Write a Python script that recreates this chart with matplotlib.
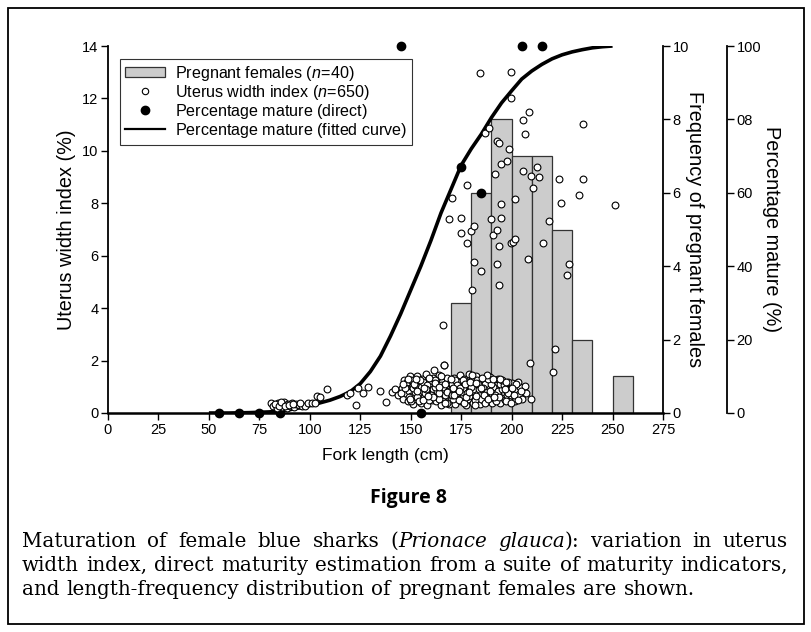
import matplotlib
matplotlib.use("Agg")
import matplotlib.pyplot as plt
from matplotlib.patches import Patch, Rectangle
from matplotlib.lines import Line2D

plt.rcParams['font.family'] = ['Liberation Sans', 'DejaVu Sans']
plt.rcParams['mathtext.fontset'] = 'custom'
plt.rcParams['mathtext.it'] = 'Liberation Sans:italic'
plt.rcParams['mathtext.rm'] = 'Liberation Sans'

# ---- data ----
# length-frequency of pregnant females (10 cm bins)
bin_left = [170, 180, 190, 200, 210, 220, 230, 240, 250]
preg_freq = [3, 6, 8, 7, 7, 5, 2, 0, 1]

# percentage mature, direct estimate
direct_len = [55, 65, 75, 85, 155, 145, 175, 185, 205, 215]
direct_pct = [0, 0, 0, 0, 0, 100, 67, 60, 100, 100]

# percentage mature, fitted curve
curve_len = [50, 60, 70, 80, 90, 100, 110, 115, 120, 125, 130, 135, 140, 145,
             150, 155, 160, 165, 170, 175, 180, 185, 190, 195, 200, 205, 210,
             215, 220, 225, 230, 235, 240, 245, 250]
curve_pct = [0, 0, 0.1, 0.3, 0.9, 2.0, 3.5, 4.5, 5.8, 8.0, 11.3, 15.5, 21, 27,
             33.5, 40, 47, 54.5, 61, 67.5, 72, 76, 80.5, 84.5, 87.8, 91, 93.2,
             95, 96.5, 97.6, 98.4, 99.0, 99.5, 99.8, 100]

# uterus width index - juveniles
juv_len = [81, 82, 83, 83.5, 84, 85, 86, 86.5, 87, 88, 88.5, 89, 90, 91, 92, 93,
           94.5, 96, 97.6, 99.3, 100.9, 102.6, 103.7, 105, 108.7, 118.3, 119.9,
           122.9, 124, 126.2, 129, 134.8, 137.8, 140.6, 142.2, 143.9,
           82.5, 84.5, 85.5, 87.5, 89.5, 91.5, 95]
juv_uwi = [0.38, 0.25, 0.32, 0.18, 0.4, 0.3, 0.22, 0.38, 0.43, 0.3, 0.2, 0.35,
           0.28, 0.4, 0.22, 0.34, 0.3, 0.25, 0.27, 0.39, 0.39, 0.39, 0.66, 0.62,
           0.9, 0.69, 0.75, 0.31, 0.94, 0.77, 0.98, 0.85, 0.41, 0.81, 0.9, 0.69,
           0.35, 0.28, 0.42, 0.25, 0.3, 0.33, 0.38]

# uterus width index - dense cluster of immature/maturing fish
clu_len = [145.5, 146, 146.5, 147, 147.5, 148, 148.5, 149, 149.5, 150, 150.5,
           151, 151.5, 152, 152.5, 153, 153.5, 154, 154.5, 155, 155.5, 156,
           156.5, 157, 157.5, 158, 158.5, 159, 159.5, 160, 160.5, 161, 161.5,
           162, 162.5, 163, 163.5, 164, 164.5, 165, 165.5, 166, 166.5, 167,
           167.5, 168, 168.5, 169, 169.5,
           149, 151, 153, 155, 157, 159, 161, 163, 165, 167, 169, 150, 152, 154,
           156, 158, 160, 162, 164, 166, 168,
           170, 170.5, 171, 171.5, 172, 172.5, 173, 173.5, 174, 174.5, 175,
           175.5, 176, 176.5, 177, 177.5, 178, 178.5, 179, 179.5, 180, 180.5,
           181, 181.5, 182, 182.5, 183, 183.5, 184, 184.5, 185, 185.5, 186,
           186.5, 187, 187.5, 188, 188.5, 189, 189.5, 190, 190.5, 191, 191.5,
           192, 192.5, 193, 193.5, 194, 194.5, 195, 195.5, 196, 196.5, 197,
           197.5, 198, 198.5, 199, 199.5, 200, 200.5,
           171, 173, 175, 177, 179, 181, 183, 185, 187, 189, 191, 193, 195, 197,
           172, 174, 176, 178, 180, 182, 184, 186, 188, 190, 192, 194, 196, 198,
           170.5, 176.5, 182.5, 188.5, 186.8,
           201, 202, 202.8, 203.8, 204, 205, 206.6, 207, 209.5, 201.5, 203]
clu_uwi = [0.95, 0.55, 1.25, 0.75, 1.05, 1.19, 0.45, 0.85, 1.4, 0.65, 1.0,
           0.35, 1.2, 0.8, 0.55, 1.42, 0.95, 0.7, 1.1, 0.4, 1.3, 0.85,
           0.6, 1.05, 1.5, 0.3, 0.9, 1.2, 0.7, 1.0, 0.5, 1.35, 1.64,
           0.8, 0.45, 1.1, 0.65, 1.45, 0.9, 0.3, 1.2, 0.75, 1.84, 0.5,
           1.0, 1.35, 0.6, 0.85, 1.15,
           0.6, 0.95, 0.6, 1.0, 0.75, 0.5, 0.9, 0.85, 1.05, 0.7, 0.35, 1.25, 1.05,
           0.45, 1.2, 1.05, 0.7, 1.25, 0.55, 1.0, 0.8,
           0.5, 1.1, 0.8, 1.35, 0.35, 0.95, 0.6, 1.2, 0.75, 1.45, 0.45,
           1.0, 0.65, 1.3, 0.85, 0.3, 1.1, 0.55, 1.5, 0.9, 0.7, 1.25,
           0.4, 1.05, 0.8, 1.4, 0.6, 0.95, 1.2, 0.35, 0.75, 1.1, 0.5,
           1.3, 0.9, 0.65, 1.15, 0.45, 1.0, 1.39, 0.7, 0.4, 1.2, 0.85,
           0.55, 1.05, 1.29, 0.75, 0.38, 0.95, 0.6, 1.15, 0.8, 0.5, 1.0,
           0.7, 1.05, 0.45, 0.9, 0.67, 1.13, 0.8,
           0.55, 1.0, 0.8, 1.15, 0.65, 0.9, 1.25, 0.55, 1.1, 0.6, 1.0, 0.85, 0.9,
           0.45, 1.25, 0.5, 0.95, 0.75, 1.0, 0.5, 0.9, 0.95, 0.8, 1.1, 0.7, 1.1,
           1.05, 0.75, 0.7, 0.4, 0.65, 1.3, 0.37,
           0.95, 0.6, 0.88, 0.72, 1.0, 0.55, 1.03, 0.75, 0.53, 0.45, 1.2]

clu2_len = [145, 147.2, 148.8, 150.2, 151.8, 153.2, 154.8, 156.2, 157.8, 159.2,
            160.8, 162.2, 163.8, 165.2, 166.8, 168.2, 169.8, 171.2, 172.8, 174.2,
            175.8, 177.2, 178.8, 180.2, 181.8, 183.2, 184.8, 186.2, 187.8, 189.2,
            190.8, 192.2, 193.8, 195.2, 196.8, 198.2, 199.8, 201.2, 202.2, 204.5,
            146.2, 149.8, 152.8, 156.8, 158.8, 161.8, 164.2, 167.2, 170.8, 173.8,
            176.8, 179.2, 182.2, 185.2, 188.2, 191.2, 194.2, 197.2, 200.2, 203.2]
clu2_uwi = [0.75, 0.95, 1.3, 0.45, 1.1, 0.85, 1.25, 0.5, 0.9, 1.35,
            0.6, 1.0, 0.75, 1.4, 1.1, 0.4, 1.3, 0.7, 1.05, 0.95,
            1.25, 0.6, 0.8, 1.45, 0.3, 1.1, 0.95, 0.7, 1.45, 0.85,
            1.3, 0.45, 0.6, 1.25, 0.9, 1.2, 0.4, 0.7, 1.1, 0.85,
            1.1, 0.55, 1.3, 0.95, 0.65, 1.15, 1.0, 0.4, 0.95, 0.85,
            1.1, 1.2, 1.15, 1.35, 0.55, 0.6, 1.3, 1.2, 0.95, 0.5]

# uterus width index - enlarged uteri
big_len = [165.9, 166.7, 168.8, 170.3, 174.8, 174.8, 177.7, 177.7, 179.7, 180.5,
           181.5, 181.5, 184.5, 184.7, 186.8, 188.6, 189.6, 190.6, 191.6, 192.6,
           192.6, 192.6, 193.6, 193.6, 193.6, 194.6, 194.6, 194.7, 197.6, 198.6,
           199.5, 199.5, 199.5, 200.5, 201.7, 201.8, 205.5, 205.5, 206.6, 208.3,
           208.5, 209.1, 209.5, 210.8, 212.4, 213.6, 215.6, 218.7, 220.5, 221.5,
           223.3, 224.5, 227.5, 228.4, 233.6, 235.5, 235.5, 251.2]
big_uwi = [3.36, 1.83, 7.39, 8.19, 7.43, 6.86, 8.71, 6.47, 6.94, 4.68,
           7.15, 5.77, 12.98, 5.42, 10.70, 10.86, 7.41, 6.80, 9.12, 10.39,
           6.98, 5.68, 10.31, 6.38, 4.87, 9.49, 7.45, 7.96, 9.61, 10.06,
           13.01, 12.0, 6.50, 6.54, 6.63, 8.16, 11.18, 9.25, 10.64, 5.88,
           11.5, 1.90, 9.05, 8.57, 9.40, 9.02, 6.47, 7.33, 1.55, 2.45,
           8.93, 8.0, 5.25, 5.67, 8.32, 11.03, 8.92, 7.94]

uwi_len = juv_len + clu_len + clu2_len + big_len
uwi_val = juv_uwi + clu_uwi + clu2_uwi + big_uwi

x_ticks = [0, 25, 50, 75, 100, 125, 150, 175, 200, 225, 250, 275]
uwi_ticks = [0, 2, 4, 6, 8, 10, 12, 14]
freq_ticks = [0, 2, 4, 6, 8, 10]
pct_ticks = [0, 20, 40, 60, 80, 100]
pct_labels = ["0", "20", "40", "60", "08", "100"]

caption = [
    [("Maturation", ''), ("of", ''), ("female", ''), ("blue", ''), ("sharks", ''),
     ("(", ''), ("Prionace", 'i'), ("glauca", 'i'), ("):", ''), ("variation", ''),
     ("in", ''), ("uterus", '')],
    [(w, '') for w in "width index, direct maturity estimation from a suite of "
                      "maturity indicators,".split()],
    [(w, '') for w in "and length-frequency distribution of pregnant females "
                      "are shown.".split()],
]

# ---- figure ----
fig = plt.figure(figsize=(8.12, 6.32), dpi=100)
fig.patches.append(Rectangle((8 / 812, 8 / 632), 796 / 812, 616 / 632,
                             transform=fig.transFigure, fill=False,
                             edgecolor='black', linewidth=1.3))

ax = fig.add_axes([108 / 812, 1 - 413 / 632, 555 / 812, 367 / 632])
ax_f = ax.twinx()
ax_p = ax.twinx()

# draw order: bars, then curve/dots, then uterus points
ax_f.set_zorder(1)
ax_p.set_zorder(2)
ax.set_zorder(3)
ax.patch.set_visible(False)
ax_p.patch.set_visible(False)

tick_kw = dict(direction='out', length=5, width=1, labelsize=10.5, pad=2)
label_size = 12.5
vlabel_size = 14.3

# frequency bars
ax_f.bar(bin_left, preg_freq, width=10, align='edge', color='#cccccc',
         edgecolor='#333333', linewidth=0.9)
ax_f.set_ylim(0, 10)
ax_f.set_yticks(freq_ticks)
ax_f.tick_params(axis='y', **tick_kw)
ax_f.set_ylabel("Frequency of pregnant females", rotation=-90,
                fontsize=vlabel_size, labelpad=11)
for s in ['top', 'left', 'bottom']:
    ax_f.spines[s].set_visible(False)
ax_f.spines['right'].set_linewidth(1.3)

# percentage mature
ax_p.plot(curve_len, curve_pct, color='black', linewidth=2.6,
          solid_capstyle='butt')
ax_p.plot(direct_len, direct_pct, 'o', color='black', markersize=6,
          clip_on=False)
ax_p.set_ylim(0, 100)
ax_p.set_yticks(pct_ticks)
ax_p.set_yticklabels(pct_labels)
ax_p.tick_params(axis='y', **tick_kw)
ax_p.spines['right'].set_position(('axes', 1 + 64 / 555))
ax_p.spines['right'].set_linewidth(1.3)
for s in ['top', 'left', 'bottom']:
    ax_p.spines[s].set_visible(False)
ax_p.set_ylabel("Percentage mature (%)", rotation=-90, fontsize=vlabel_size,
                labelpad=14)

# uterus width index
ax.plot(uwi_len, uwi_val, 'o', markerfacecolor='white',
        markeredgecolor='black', markeredgewidth=0.8, markersize=4.9)
ax.set_xlim(0, 275)
ax.set_ylim(0, 14)
ax.set_xticks(x_ticks)
ax.set_yticks(uwi_ticks)
ax.tick_params(axis='both', **tick_kw)
for lab in ax.get_xticklabels():
    lab.set_family(['Liberation Sans Narrow', 'Liberation Sans'])
ax.spines['top'].set_visible(False)
ax.spines['right'].set_visible(False)
ax.spines['left'].set_linewidth(1.3)
ax.spines['bottom'].set_linewidth(1.8)
ax.set_xlabel("Fork length (cm)", fontsize=label_size, labelpad=8)
ax.set_ylabel("Uterus width index (%)", fontsize=vlabel_size, labelpad=4)

handles = [
    Patch(facecolor='#cccccc', edgecolor='#333333', linewidth=0.9),
    Line2D([], [], marker='o', linestyle='none', markerfacecolor='white',
           markeredgecolor='black', markeredgewidth=0.8, markersize=4.6),
    Line2D([], [], marker='o', linestyle='none', color='black', markersize=6),
    Line2D([], [], color='black', linewidth=1.6),
]
labels = [r"$\mathrm{Pregnant\ females\ (}n\!=\!\mathrm{40)}$",
          r"$\mathrm{Uterus\ width\ index\ (}n\!=\!\mathrm{650)}$",
          r"$\mathrm{Percentage\ mature\ (direct)}$",
          r"$\mathrm{Percentage\ mature\ (fitted\ curve)}$"]
leg = ax.legend(handles, labels, loc='upper left',
                bbox_to_anchor=(12 / 555, 354 / 367), borderaxespad=0,
                fontsize=11.6, frameon=True, fancybox=False, handlelength=2.5,
                handleheight=0.6, labelspacing=0.0, borderpad=0.3,
                handletextpad=0.6)
leg.get_frame().set_edgecolor('black')
leg.get_frame().set_linewidth(0.8)

# caption
fig.text(408 / 812, 1 - 498 / 632, "Figure 8", ha='center', va='center',
         fontsize=14, fontweight='bold', family=['Open Sans', 'DejaVu Sans'])

cap_size = 14.3
cap_left, cap_right = 22, 788
baselines = [547, 571, 595]
fig.canvas.draw()
r = fig.canvas.get_renderer()
probe_ab = fig.text(0, 0, "a b", fontsize=cap_size, family='DejaVu Serif')
probe_a = fig.text(0, 0, "a", fontsize=cap_size, family='DejaVu Serif')
sp_w = (probe_ab.get_window_extent(r).width
        - 2 * probe_a.get_window_extent(r).width)
probe_ab.remove()
probe_a.remove()
for i, (words, base) in enumerate(zip(caption, baselines)):
    arts = []
    for w, st in words:
        t = fig.text(0, 1 - base / 632, w, fontsize=cap_size,
                     family='DejaVu Serif', va='baseline',
                     style='italic' if st == 'i' else 'normal')
        arts.append(t)
    widths = [t.get_window_extent(r).width for t in arts]
    gaps = []
    for j in range(len(words) - 1):
        # no space after "(" or before "):"
        if words[j][0] == "(" or words[j + 1][0] == "):":
            gaps.append(0)
        else:
            gaps.append(sp_w)
    if i < 2:  # justified lines
        n_real = sum(1 for g in gaps if g > 0)
        extra = (cap_right - cap_left) - sum(widths) - sum(gaps)
        gaps = [g + extra / n_real if g > 0 else g for g in gaps]
    x = cap_left
    for j, t in enumerate(arts):
        t.set_x(x / 812)
        x += widths[j] + (gaps[j] if j < len(gaps) else 0)

fig.savefig("out.png", dpi=100)
